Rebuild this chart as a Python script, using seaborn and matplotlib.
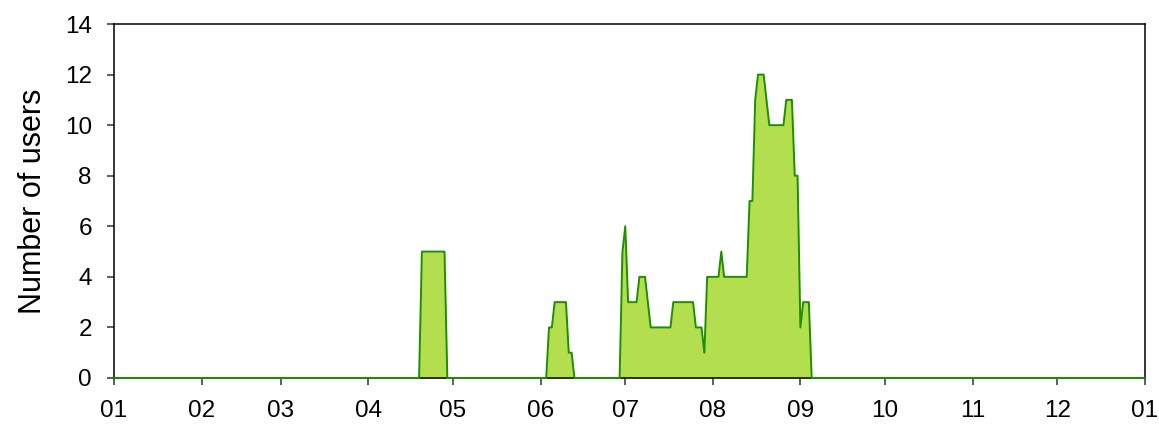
import matplotlib
matplotlib.use("Agg")
import matplotlib.pyplot as plt
import seaborn as sns
import pandas as pd

# Day of year (0 = 1 January) and number of users at each breakpoint
days = [0, 108, 109, 117, 118,
        153, 154, 155, 156, 160, 161, 162, 163,
        179, 180, 181, 182, 185, 186, 188, 189, 190,
        197, 198, 205, 206, 208, 209, 210,
        214, 215, 216, 224, 225, 226, 227, 228, 230, 231, 232,
        237, 238, 240, 241, 242, 243, 244, 246, 247, 365]
users = [0, 0, 5, 5, 0,
         0, 2, 2, 3, 3, 1, 1, 0,
         0, 5, 6, 3, 3, 4, 4, 3, 2,
         2, 3, 3, 2, 2, 1, 4,
         4, 5, 4, 4, 7, 7, 11, 12, 12, 11, 10,
         10, 11, 11, 8, 8, 2, 3, 3, 0, 0]

month_starts = [0, 31, 59, 90, 120, 151, 181, 212, 243, 273, 304, 334, 365]
month_labels = ["01", "02", "03", "04", "05", "06", "07", "08", "09", "10", "11", "12", "01"]
y_ticks = [0, 2, 4, 6, 8, 10, 12, 14]

df = pd.DataFrame({"day": days, "users": users})

sns.set_theme(style="white")
plt.rcParams["font.family"] = ["Liberation Sans", "DejaVu Sans"]
plt.rcParams["text.color"] = "black"
plt.rcParams["axes.labelcolor"] = "black"
plt.rcParams["xtick.color"] = "black"
plt.rcParams["ytick.color"] = "black"

fig = plt.figure(figsize=(11.59, 4.25), dpi=100)
ax = fig.add_axes([0.0984, 0.1106, 0.8895, 0.8329])

ax.fill_between(df["day"], df["users"], 0, color="#b3df4f", linewidth=0, zorder=1)
sns.lineplot(data=df, x="day", y="users", ax=ax, color="#1f8f00",
             linewidth=1.4, zorder=3, clip_on=False)

ax.set_xlim(0, 365)
ax.set_ylim(0, 14)
ax.set_xticks(month_starts)
ax.set_xticklabels(month_labels)
ax.set_yticks(y_ticks)
ax.set_xlabel("")
ax.set_ylabel("Number of users", fontsize=22, labelpad=12, color="black")

for s in ax.spines.values():
    s.set_visible(True)
    s.set_color("black")
    s.set_linewidth(1.1)

ax.tick_params(axis="both", which="major", direction="out", length=5,
               width=1.1, color="#333333", labelcolor="black", labelsize=17.5,
               bottom=True, left=True)
ax.tick_params(axis="x", pad=11)
ax.tick_params(axis="y", pad=11)

fig.savefig("out.png", dpi=100)
